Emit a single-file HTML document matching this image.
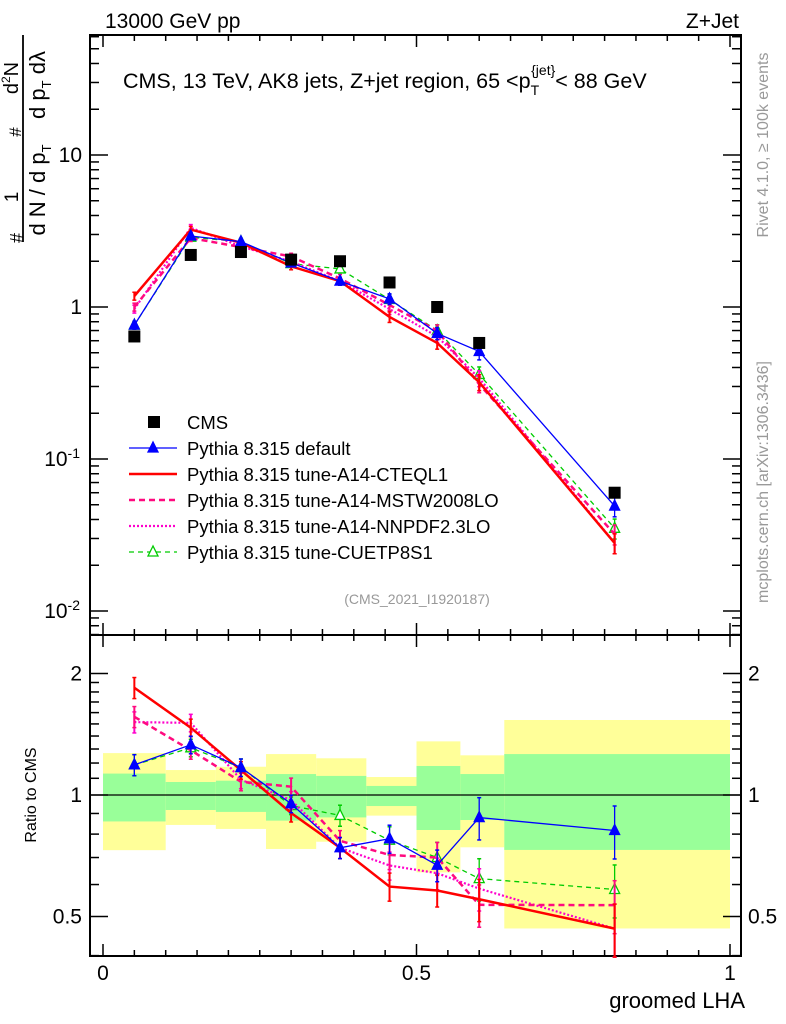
<!DOCTYPE html>
<html><head><meta charset="utf-8"><style>
body{margin:0;background:#fff}
svg{display:block;font-family:"Liberation Sans",sans-serif}
</style></head><body>
<svg id="chart" width="786" height="1024" viewBox="0 0 786 1024" xmlns="http://www.w3.org/2000/svg">
<g id="bands"></g>
<g id="axes"></g>
<g id="series"></g>
<text x="105" y="28" font-size="21">13000 GeV pp</text>
<text x="739" y="28" font-size="21" text-anchor="end">Z+Jet</text>
<text x="123" y="88" font-size="21.5">CMS, 13 TeV, AK8 jets, Z+jet region, 65 &lt;p<tspan font-size="14" dy="7">T</tspan><tspan font-size="14" dx="-8" dy="-20">{jet}</tspan><tspan dy="13">&lt; 88 GeV</tspan></text>
<text x="417" y="604" font-size="14" fill="#999" text-anchor="middle">(CMS_2021_I1920187)</text>
<text transform="translate(768,145) rotate(-90)" font-size="16" fill="#999" text-anchor="middle">Rivet 4.1.0, ≥ 100k events</text>
<text transform="translate(768,482) rotate(-90)" font-size="16" fill="#999" text-anchor="middle">mcplots.cern.ch [arXiv:1306.3436]</text>
<g>
<line x1="23" y1="35" x2="23" y2="242" stroke="#000" stroke-width="1.8"/>
<text transform="translate(18,78) rotate(-90)" font-size="20" text-anchor="middle">d<tspan font-size="12" dy="-8">2</tspan><tspan dy="8">N</tspan></text>
<text transform="translate(21,132) rotate(-90)" font-size="17" text-anchor="middle">#</text>
<text transform="translate(18,197) rotate(-90)" font-size="19" text-anchor="middle">1</text>
<text transform="translate(23,238) rotate(-90)" font-size="18" text-anchor="middle">#</text>
<text transform="translate(45,85) rotate(-90)" font-size="22" text-anchor="middle">d p<tspan font-size="13" dy="6">T</tspan><tspan dy="-6"> dλ</tspan></text>
<text transform="translate(45,190) rotate(-90)" font-size="22" text-anchor="middle">d N / d p<tspan font-size="13" dy="6">T</tspan></text>
</g>
<text transform="translate(36,795) rotate(-90)" font-size="16" text-anchor="middle">Ratio to CMS</text>
<text x="745" y="1008" font-size="22" text-anchor="end">groomed LHA</text>
<g id="legend"></g>
</svg>
<script>
const binEdges=[0,0.1,0.18,0.26,0.34,0.42,0.5,0.57,0.64,1.0];
const xCenters=[0.05,0.14,0.22,0.30,0.378,0.457,0.533,0.60,0.816];
const cmsVals=[0.64,2.2,2.3,2.05,2.0,1.45,1.0,0.58,0.06];
const defaultVals=[0.76,2.93,2.69,1.95,1.48,1.13,0.67,0.51,0.049];
const cteqVals=[1.18,3.23,2.65,1.85,1.48,0.86,0.58,0.32,0.028];
const mstwVals=[1.0,2.84,2.48,2.15,1.54,1.03,0.70,0.31,0.032];
const nnpdfVals=[0.97,3.32,2.51,1.99,1.48,0.97,0.64,0.34,0.028];
const cuetVals=[0.76,2.88,2.69,1.93,1.78,1.12,0.70,0.36,0.035];
const mcRelErr=[0.06,0.05,0.05,0.05,0.06,0.08,0.09,0.12,0.15];
const yellowUp=[1.27,1.153,1.175,1.263,1.233,1.108,1.358,1.254,1.534];
const yellowDn=[0.73,0.843,0.824,0.735,0.766,0.889,0.643,0.742,0.467];
const greenUp=[1.13,1.077,1.085,1.127,1.115,1.053,1.18,1.127,1.263];
const greenDn=[0.86,0.918,0.908,0.864,0.88,0.939,0.819,0.867,0.731];
const topTicks=[[10,"10"],[1,"1"],[0.1,"10"],[0.01,"10"]];
const ratioTicks=[[2,"2"],[1,"1"],[0.5,"0.5"]];
const xTicks=[[0,"0"],[0.5,"0.5"],[1,"1"]];

const NS="http://www.w3.org/2000/svg";
const L=90,R=741,T=35,MID=635,B=956;
const X=v=>103+v*627;
const Y=v=>307-152*Math.log10(v);
const YR=v=>795-121.5*Math.log2(v);
function mk(p,tag,a){const e=document.createElementNS(NS,tag);for(const k in a)e.setAttribute(k,a[k]);p.appendChild(e);return e;}
const bands=document.getElementById('bands'),axes=document.getElementById('axes'),ser=document.getElementById('series'),leg=document.getElementById('legend');

for(let i=0;i<xCenters.length;i++){
  const x0=X(binEdges[i]),x1=X(binEdges[i+1]);
  let e=mk(bands,'rect',{x:x0,y:YR(yellowUp[i]),width:x1-x0,height:YR(yellowDn[i])-YR(yellowUp[i]),fill:'#ffff99'});
  
  
  e=mk(bands,'rect',{x:x0,y:YR(greenUp[i]),width:x1-x0,height:YR(greenDn[i])-YR(greenUp[i]),fill:'#99ff99'});
  
  
}
mk(axes,'line',{x1:L,x2:R,y1:YR(1),y2:YR(1),stroke:'#000','stroke-width':1.2});
mk(axes,'rect',{x:L,y:T,width:R-L,height:MID-T,fill:'none',stroke:'#000','stroke-width':2});
mk(axes,'rect',{x:L,y:MID,width:R-L,height:B-MID,fill:'none',stroke:'#000','stroke-width':2});
for(let k=0;k<=20;k++){const v=k*0.05,x=X(v),len=(k%10==0)?12:6;
  for(const [y0,d] of [[B,-1],[MID,-1],[MID,1],[T,1]]) mk(axes,'line',{x1:x,x2:x,y1:y0,y2:y0+d*len,stroke:'#000','stroke-width':1.5});}
xTicks.forEach(([v,s])=>{const t=mk(axes,'text',{x:X(v),y:980,'font-size':21,'text-anchor':'middle'});t.textContent=s;
  
  });
for(let d=-3;d<=1;d++)for(let m=1;m<10;m++){const v=m*Math.pow(10,d);const y=Y(v);if(y<T||y>MID)continue;const len=m==1?18:9;
  mk(axes,'line',{x1:L,x2:L+len,y1:y,y2:y,stroke:'#000','stroke-width':1.5});mk(axes,'line',{x1:R,x2:R-len,y1:y,y2:y,stroke:'#000','stroke-width':1.5});}
topTicks.forEach(([v,s])=>{const t=mk(axes,'text',{x:82,y:Y(v)+7,'font-size':21,'text-anchor':'end'});
  if(v<1){t.textContent=s;const sp=mk(t,'tspan',{dy:-8,'font-size':14});sp.textContent=String(Math.round(Math.log10(v)));t.setAttribute('x',80);}
  else t.textContent=s;
  
  });
[0.4,0.5,0.6,0.7,0.8,0.9,1,1.1,1.2,1.3,1.4,1.5,1.6,1.7,1.8,1.9,2].forEach(v=>{const y=YR(v);const len=(v==0.5||v==1||v==2)?18:9;
  mk(axes,'line',{x1:L,x2:L+len,y1:y,y2:y,stroke:'#000','stroke-width':1.5});mk(axes,'line',{x1:R,x2:R-len,y1:y,y2:y,stroke:'#000','stroke-width':1.5});});
ratioTicks.forEach(([v,s])=>{for(const [x,a] of [[82,'end'],[748,'start']]){const t=mk(axes,'text',{x:x,y:YR(v)+7,'font-size':21,'text-anchor':a});t.textContent=s;
  
  }});

const series=[
 {name:'pythia-default',vals:defaultVals,color:'#0000ff',w:1.3,dash:null,marker:'tri-fill',label:'Pythia 8.315 default'},
 {name:'pythia-a14-cteql1',vals:cteqVals,color:'#ff0000',w:2.5,dash:null,marker:null,label:'Pythia 8.315 tune-A14-CTEQL1'},
 {name:'pythia-a14-mstw2008lo',vals:mstwVals,color:'#ff0a7f',w:2.5,dash:'6,4',marker:null,label:'Pythia 8.315 tune-A14-MSTW2008LO'},
 {name:'pythia-a14-nnpdf23lo',vals:nnpdfVals,color:'#ff00cc',w:2.2,dash:'2,2',marker:null,label:'Pythia 8.315 tune-A14-NNPDF2.3LO'},
 {name:'pythia-cuetp8s1',vals:cuetVals,color:'#00cc00',w:1.3,dash:'5,4',marker:'tri-open',label:'Pythia 8.315 tune-CUETP8S1'}
];
function tri(g,x,y,c,open){const e=mk(g,'polygon',{points:`${x},${y-6} ${x-5},${y+4} ${x+5},${y+4}`,fill:open?'#fff':c,stroke:c,'stroke-width':1.3});
  
  }
series.slice().reverse().forEach(s=>{
  const g=mk(ser,'g',{});
  
  
  for(const panel of ['top','ratio']){
    const f=panel=='top'?(i=>Y(s.vals[i])):(i=>YR(s.vals[i]/cmsVals[i]));
    const fv=panel=='top'?(i,k)=>Y(s.vals[i]*k):(i,k)=>YR(s.vals[i]/cmsVals[i]*k);
    const pts=xCenters.map((x,i)=>X(x)+','+f(i)).join(' ');
    const a={points:pts,fill:'none',stroke:s.color,'stroke-width':s.w};if(s.dash)a['stroke-dasharray']=s.dash;
    const pl=mk(g,'polyline',a);
    
    
    xCenters.forEach((x,i)=>{const e=mcRelErr[i];const y1=fv(i,1+e),y2=fv(i,1-e);
      mk(g,'line',{x1:X(x),x2:X(x),y1:y1,y2:y2,stroke:s.color,'stroke-width':Math.min(s.w,2)});
      mk(g,'line',{x1:X(x)-2,x2:X(x)+2,y1:y1,y2:y1,stroke:s.color,'stroke-width':1.5});
      mk(g,'line',{x1:X(x)-2,x2:X(x)+2,y1:y2,y2:y2,stroke:s.color,'stroke-width':1.5});
      if(s.marker)tri(g,X(x),f(i),s.color,s.marker=='tri-open');});
  }
});
cmsVals.forEach((v,i)=>{const e=mk(ser,'rect',{x:X(xCenters[i])-6,y:Y(v)-6,width:12,height:12,fill:'#000'});
  
  });

const rows=[{label:'CMS',type:'sq'}].concat(series);
rows.forEach((s,k)=>{const y=422+k*26;const g=mk(leg,'g',{});
  
  
  if(s.type=='sq')mk(g,'rect',{x:148,y:y-6,width:12,height:12,fill:'#000'});
  else{const a={x1:129,x2:177,y1:y,y2:y,stroke:s.color,'stroke-width':s.w};if(s.dash)a['stroke-dasharray']=s.dash;mk(g,'line',a);
    if(s.marker)tri(g,153,y,s.color,s.marker=='tri-open');}
  const t=mk(g,'text',{x:187,y:y+7,'font-size':18.5});t.textContent=s.type=='sq'?'CMS':s.label;});
</script>
</body></html>
